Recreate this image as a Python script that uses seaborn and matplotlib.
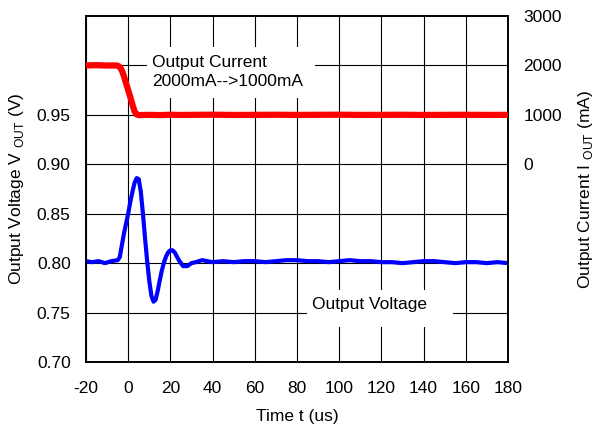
import matplotlib
matplotlib.use("Agg")
import matplotlib.pyplot as plt
import seaborn as sns
import pandas as pd
from matplotlib.patches import Rectangle

sns.set_theme(style="white")
plt.rcParams["font.family"] = ["Liberation Sans", "DejaVu Sans"]
plt.rcParams["mathtext.fontset"] = "custom"
plt.rcParams["mathtext.rm"] = "Liberation Sans"
plt.rcParams["axes.unicode_minus"] = False

v_time = [-20, -17, -14, -11, -8, -5, -4, -3, -2, -1, 0, 1, 2, 3, 4, 5, 6, 7, 8, 9,
          10, 11, 12, 13, 14, 15, 16, 17, 18, 19, 20, 21, 22, 24, 26, 28, 30, 32, 35,
          40, 45, 50, 55, 60, 65, 70, 75, 80, 85, 90, 95, 100, 105, 110, 115, 120,
          125, 130, 135, 140, 145, 150, 155, 160, 165, 170, 175, 180]
v_out = [0.802, 0.801, 0.802, 0.800, 0.802, 0.803, 0.806, 0.818, 0.830, 0.840, 0.850,
         0.862, 0.872, 0.881, 0.886, 0.885, 0.872, 0.850, 0.825, 0.802,
         0.782, 0.767, 0.761, 0.763, 0.772, 0.783, 0.793, 0.801, 0.807, 0.811,
         0.813, 0.813, 0.811, 0.803, 0.797, 0.797, 0.800, 0.801, 0.803,
         0.801, 0.802, 0.801, 0.802, 0.802, 0.801, 0.802, 0.803, 0.803, 0.802, 0.802,
         0.801, 0.802, 0.803, 0.802, 0.802, 0.801, 0.801, 0.800, 0.801, 0.802,
         0.802, 0.801, 0.800, 0.801, 0.801, 0.800, 0.801, 0.800]

i_time = [-20, -15, -10, -6, -5, -4, -3, -2, -1, 0, 1, 2, 3, 4, 5, 10, 15, 20, 25,
          30, 40, 50, 60, 70, 80, 90, 100, 110, 120, 130, 140, 150, 160, 170, 180]
i_out = [2000, 2005, 1998, 2000, 1995, 1970, 1900, 1780, 1640, 1500, 1360, 1210,
         1070, 1010, 995, 1000, 995, 1002, 998, 1000, 1003, 998, 1000, 1002, 999,
         1001, 1003, 999, 1000, 1002, 998, 1000, 1001, 999, 1000]

v_ticks = [0.70, 0.75, 0.80, 0.85, 0.90, 0.95, 1.00]
v_labels = ["0.70", "0.75", "0.80", "0.85", "0.90", "0.95", ""]
i_ticks = [0, 1000, 2000, 3000]
t_ticks = list(range(-20, 181, 20))

df_v = pd.DataFrame({"t": v_time, "v": v_out})
df_i = pd.DataFrame({"t": i_time, "i": i_out})

FS = 12.5
fig = plt.figure(figsize=(5.95, 4.29), dpi=100)
ax = fig.add_axes([0.1445, 0.1562, 0.7093, 0.8065])
ax2 = ax.twinx()

sns.lineplot(data=df_v, x="t", y="v", ax=ax, color="#0000ff", linewidth=3.0,
             estimator=None, sort=False, zorder=3)
sns.lineplot(data=df_i, x="t", y="i", ax=ax2, color="#ff0000", linewidth=4.5,
             estimator=None, sort=False, zorder=3)

ax.set_xlim(-20, 180)
ax.set_ylim(0.70, 1.05)
ax2.set_ylim(-4000, 3000)
ax.set_xticks(t_ticks)
ax.set_yticks(v_ticks)
ax.set_yticklabels(v_labels)
ax2.set_yticks(i_ticks)

ax.grid(True, color="black", linewidth=0.8)
ax.set_axisbelow(True)
ax.tick_params(axis="both", length=0, labelsize=FS, colors="black")
ax.tick_params(axis="y", pad=11)
ax.tick_params(axis="x", pad=14)
ax2.tick_params(axis="y", length=0, labelsize=FS, colors="black", pad=11)

for a in (ax, ax2):
    for s in a.spines.values():
        s.set_color("black")
        s.set_linewidth(1.2)

ax.set_xlabel("Time t (us)", fontsize=FS, color="black", labelpad=9)
ax.set_ylabel(r"Output Voltage V $_{\mathrm{OUT}}$ (V)", fontsize=FS, color="black", labelpad=8)
ax2.set_ylabel(r"Output Current I $_{\mathrm{OUT}}$ (mA)", fontsize=FS, color="black", labelpad=10)

# white label boxes cut through the grid
ax.add_patch(Rectangle((0.1445, 0.763), 0.398, 0.147, transform=ax.transAxes,
                       facecolor="white", edgecolor="none", zorder=1))
ax.text(0.156, 0.838, "Output Current\n2000mA-->1000mA", transform=ax.transAxes,
        fontsize=FS, va="center", ha="left", linespacing=1.3, color="black", zorder=2)
ax.add_patch(Rectangle((0.5237, 0.101), 0.346, 0.107, transform=ax.transAxes,
                       facecolor="white", edgecolor="none", zorder=1))
ax.text(0.5355, 0.1676, "Output Voltage", transform=ax.transAxes,
        fontsize=FS, va="center", ha="left", color="black", zorder=2)

fig.savefig("out.png", dpi=100)
